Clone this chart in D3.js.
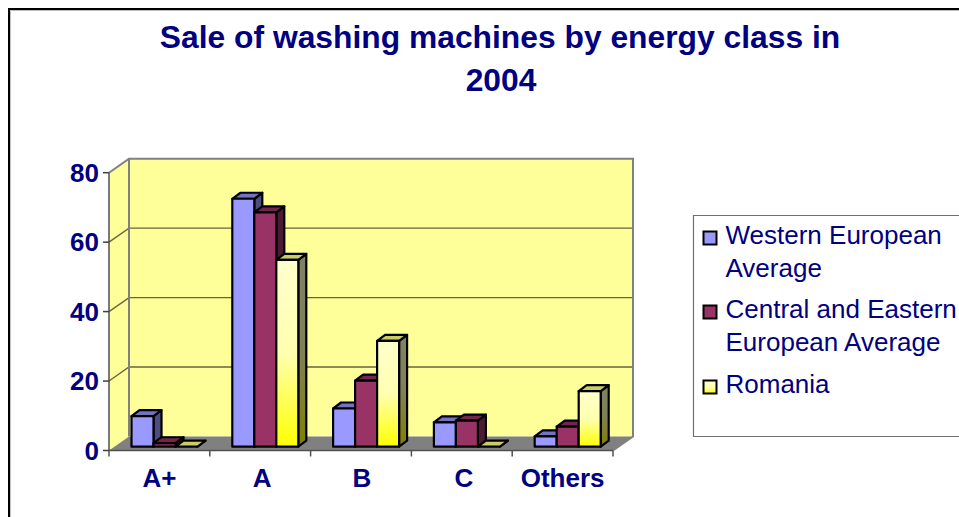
<!DOCTYPE html>
<html><head><meta charset="utf-8">
<script src="https://cdn.jsdelivr.net/npm/d3@7/dist/d3.min.js"></script>
<style>html,body{margin:0;background:#fff;overflow:hidden}svg{display:block}text{font-family:"Liberation Sans",Arial,sans-serif}</style>
</head><body><svg id="c" width="959" height="517"></svg>
<script>
const categories = ["A+","A","B","C","Others"];
const westernEuropean = [8.8,71.4,11,7,3];
const centralEastern = [1,67.5,19,7.5,5.8];
const romania = [0,53.8,30.5,0,16];
const seriesNames = ["Western European Average","Central and Eastern European Average","Romania"];
const yTicks = [0,20,40,60,80];
const titleLines = ["Sale of washing machines by energy class in","2004"];
const legendLines = [["Western European","Average"],["Central and Eastern","European Average"],["Romania"]];

const svg = d3.select("#c");
const navy = "#000080";
const defs = svg.append("defs");
const grad = defs.append("linearGradient").attr("id","yg").attr("x1",0).attr("y1",0).attr("x2",0).attr("y2",1);
grad.append("stop").attr("offset","0%").attr("stop-color","#ffffcc");
grad.append("stop").attr("offset","50%").attr("stop-color","#ffffb0");
grad.append("stop").attr("offset","100%").attr("stop-color","#ffff00");
const gradS = defs.append("linearGradient").attr("id","ys").attr("x1",0).attr("y1",0).attr("x2",0).attr("y2",1);
gradS.append("stop").attr("offset","0%").attr("stop-color","#808066");
gradS.append("stop").attr("offset","50%").attr("stop-color","#808058");
gradS.append("stop").attr("offset","100%").attr("stop-color","#808000");

// outer frame
svg.append("path").attr("d","M9,517V9H959").attr("fill","none").attr("stroke","#000").attr("stroke-width",2);
svg.append("path").attr("d","M10.5,517V10.5H959").attr("fill","none").attr("stroke","#c0c0c0").attr("stroke-width",1);

// title
svg.selectAll("text.title").data(titleLines).join("text").attr("class","title")
  .attr("x",(d,i)=>i?501:500).attr("y",(d,i)=>48+i*43).attr("text-anchor","middle")
  .attr("font-size",31.8).attr("font-weight","bold").attr("fill",navy).text(d=>d);

// scales
const front = {left:109,right:613,bottom:450.5,top:172.7};
const depth = {dx:20,dy:-14};
const x = d3.scaleBand().domain(categories).range([front.left,front.right]);
const y = d3.scaleLinear().domain([0,80]).range([front.bottom,front.top]);
const xs = d3.scaleBand().domain(seriesNames).range([22.5,88.5]);

// walls
const g = svg.append("g");
const Y = v=>y(v), bx=front.left+depth.dx, bxr=front.right+depth.dx;
g.append("path").attr("d",`M${front.left},${Y(0)}L${front.left},${Y(80)}L${bx},${Y(80)+depth.dy}L${bx},${Y(0)+depth.dy}Z`).attr("fill","#ffff99");
g.append("rect").attr("x",bx).attr("y",Y(80)+depth.dy).attr("width",bxr-bx).attr("height",Y(0)-Y(80)).attr("fill","#ffff99");
g.append("path").attr("d",`M${front.left},${Y(0)}L${front.right},${Y(0)}L${bxr},${Y(0)+depth.dy}L${bx},${Y(0)+depth.dy}Z`).attr("fill","#808080");
// gridlines
g.selectAll("path.grid").data(yTicks.slice(1,4)).join("path").attr("class","grid")
  .attr("d",v=>`M${front.left},${Y(v)}L${bx},${Y(v)+depth.dy}H${bxr}`)
  .attr("fill","none").attr("stroke","#66663c").attr("stroke-width",1.4);
g.append("path").attr("d",`M${front.left},${Y(80)}L${bx},${Y(80)+depth.dy}H${bxr}V${Y(0)+depth.dy}L${front.right},${Y(0)}`)
  .attr("fill","none").attr("stroke","#808080").attr("stroke-width",2);
g.append("path").attr("d",`M${bx},${Y(80)+depth.dy}V${Y(0)+depth.dy}`).attr("stroke","#808080").attr("stroke-width",2).attr("fill","none");

// axes
g.append("path").attr("d",`M${front.left},${Y(80)}V${Y(0)}H${front.right}`).attr("fill","none").attr("stroke","#505050").attr("stroke-width",1.5);
g.selectAll("path.yt").data(yTicks).join("path").attr("class","yt")
  .attr("d",v=>`M${front.left-6},${Y(v)}H${front.left}`).attr("stroke","#404040").attr("stroke-width",1.5);
const xTickPos = categories.map(c=>x(c)).concat([front.right]);
g.selectAll("path.xt").data(xTickPos).join("path").attr("class","xt")
  .attr("d",p=>`M${p},${Y(0)}v6`).attr("stroke","#505050").attr("stroke-width",1.5);
svg.selectAll("text.yl").data(yTicks).join("text").attr("class","yl")
  .attr("x",99).attr("y",v=>Y(v)+9).attr("text-anchor","end").attr("font-size",26).attr("font-weight","bold").attr("fill",navy).text(d=>d);
svg.selectAll("text.xl").data(categories).join("text").attr("class","xl")
  .attr("x",(c,i)=>x(c)+x.bandwidth()/2+[0,2,1,2,0][i]).attr("y",487).attr("text-anchor","middle").attr("font-size",26).attr("font-weight","bold").attr("fill",navy).text(d=>d);

// bars
const styles = [
 {front:"#9999ff",top:"#7373bf",side:"#4d4d80"},
 {front:"#993366",top:"#73264d",side:"#4d1a33"},
 {front:"url(#yg)",top:"#cccc66",side:"url(#ys)"}
];
const seriesData = [westernEuropean,centralEastern,romania];
const barDepth = {dx:8,dy:-6};
const floorShift = {x:0,y:-3.8};
const bars = svg.append("g").attr("stroke","#000").attr("stroke-width",2.2).attr("stroke-linejoin","round");
categories.forEach((c,ci)=>{
  seriesNames.forEach((s,si)=>{
    const v = seriesData[si][ci], st = styles[si];
    const x0 = x(c)+xs(s), w = xs.bandwidth(), x1=x0+w;
    const yb = Y(0)+floorShift.y, yt = Y(v)+floorShift.y;
    const bg = bars.append("g");
    bg.append("path").attr("d",`M${x1},${yt}L${x1+barDepth.dx},${yt+barDepth.dy}V${yb+barDepth.dy}L${x1},${yb}Z`).attr("fill",st.side);
    bg.append("path").attr("d",`M${x0},${yt}L${x0+barDepth.dx},${yt+barDepth.dy}H${x1+barDepth.dx}L${x1},${yt}Z`).attr("fill",st.top);
    if(v>0) bg.append("rect").attr("x",x0).attr("y",yt).attr("width",w).attr("height",yb-yt).attr("fill",st.front);
  });
});

// legend
const lg = svg.append("g");
lg.append("path").attr("d","M959,215.5H693.5V436.5H959").attr("fill","#fff").attr("stroke","#707070").attr("stroke-width",1.2);
const legendY = [235,309,384];
const swatch = ["#9999ff","#993366","url(#yg)"];
legendLines.forEach((lines,i)=>{
  lg.append("rect").attr("x",703.5).attr("y",legendY[i]-3.5).attr("width",13).attr("height",13).attr("fill",swatch[i]).attr("stroke","#000").attr("stroke-width",2);
  lines.forEach((t,j)=>{
    lg.append("text").attr("x",725.5).attr("y",legendY[i]+9+j*33).attr("font-size",26).attr("fill",navy).text(t);
  });
});
</script></body></html>
